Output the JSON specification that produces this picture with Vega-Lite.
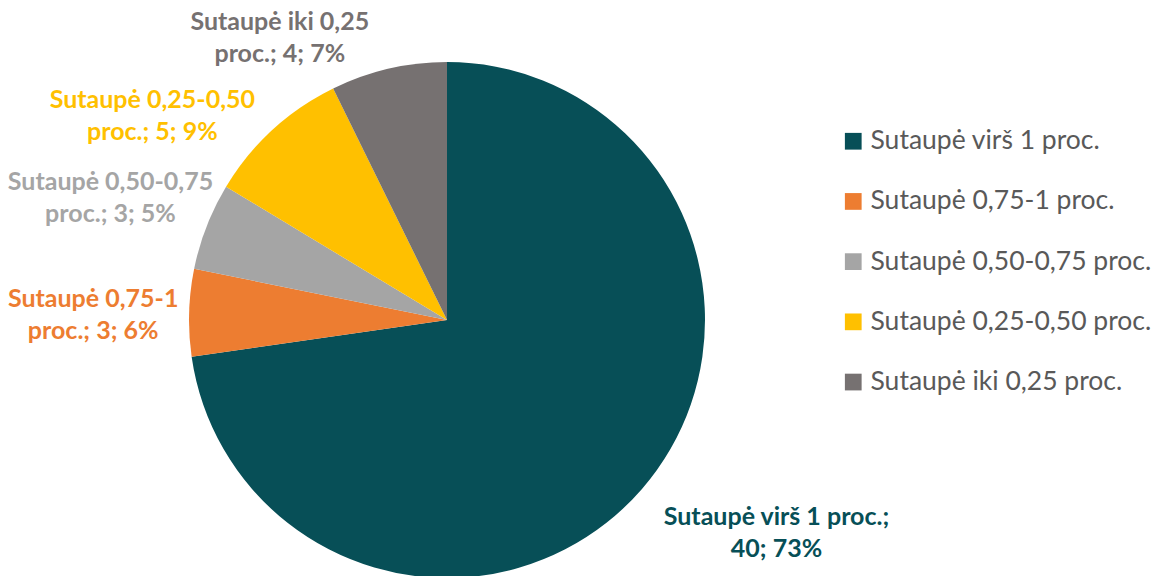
{
  "$schema": "https://vega.github.io/schema/vega-lite/v6.json",
  "autosize": "none",
  "width": 894,
  "height": 512,
  "padding": {"left": 0, "top": 64, "right": 262, "bottom": 0},
  "background": "white",
  "config": {"view": {"stroke": null}, "font": "Lato"},
  "data": {
    "values": [
      {"rank": 1, "cat": "Sutaupė virš 1 proc.", "n": 40, "label": "Sutaupė virš 1 proc.;\n40; 73%"},
      {"rank": 2, "cat": "Sutaupė 0,75-1 proc.", "n": 3, "label": "Sutaupė 0,75-1\nproc.; 3; 6%"},
      {"rank": 3, "cat": "Sutaupė 0,50-0,75 proc.", "n": 3, "label": "Sutaupė 0,50-0,75\nproc.; 3; 5%"},
      {"rank": 4, "cat": "Sutaupė 0,25-0,50 proc.", "n": 5, "label": "Sutaupė 0,25-0,50\nproc.; 5; 9%"},
      {"rank": 5, "cat": "Sutaupė iki 0,25 proc.", "n": 4, "label": "Sutaupė iki 0,25\nproc.; 4; 7%"}
    ]
  },
  "encoding": {
    "theta": {"field": "n", "type": "quantitative", "stack": true},
    "order": {"field": "rank", "type": "quantitative"},
    "color": {
      "field": "cat",
      "type": "nominal",
      "scale": {
        "domain": ["Sutaupė virš 1 proc.", "Sutaupė 0,75-1 proc.", "Sutaupė 0,50-0,75 proc.", "Sutaupė 0,25-0,50 proc.", "Sutaupė iki 0,25 proc."],
        "range": ["#074F57", "#ED7D31", "#A5A5A5", "#FFC000", "#767171"]
      },
      "legend": {
        "title": null,
        "orient": "none",
        "legendX": 840,
        "legendY": 64,
        "symbolType": "square",
        "symbolSize": 280,
        "symbolStrokeWidth": 0,
        "labelFont": "Lato",
        "labelFontSize": 26.5,
        "labelColor": "#595959",
        "labelOffset": 4,
        "rowPadding": 33.2,
        "labelLimit": 400
      }
    }
  },
  "layer": [
    {"mark": {"type": "arc", "outerRadius": 258}},
    {
      "mark": {"type": "text", "radius": 387, "dx": 37, "dy": -56, "fontSize": 25, "fontWeight": "bold", "lineBreak": "\n", "lineHeight": 32, "align": "center", "baseline": "middle"},
      "encoding": {
        "color": {"field": "cat", "type": "nominal", "legend": null},
        "text": {"condition": {"test": "datum.rank === 1", "field": "label"}, "value": ""}
      }
    },
    {
      "mark": {"type": "text", "radius": 354, "dx": 0, "dy": -11, "fontSize": 25, "fontWeight": "bold", "lineBreak": "\n", "lineHeight": 32, "align": "center", "baseline": "middle"},
      "encoding": {
        "color": {"field": "cat", "type": "nominal", "legend": null},
        "text": {"condition": {"test": "datum.rank === 2", "field": "label"}, "value": ""}
      }
    },
    {
      "mark": {"type": "text", "radius": 359, "dx": -2, "dy": -8, "fontSize": 25, "fontWeight": "bold", "lineBreak": "\n", "lineHeight": 32, "align": "center", "baseline": "middle"},
      "encoding": {
        "color": {"field": "cat", "type": "nominal", "legend": null},
        "text": {"condition": {"test": "datum.rank === 3", "field": "label"}, "value": ""}
      }
    },
    {
      "mark": {"type": "text", "radius": 350, "dx": -58, "dy": 38, "fontSize": 25, "fontWeight": "bold", "lineBreak": "\n", "lineHeight": 32, "align": "center", "baseline": "middle"},
      "encoding": {
        "color": {"field": "cat", "type": "nominal", "legend": null},
        "text": {"condition": {"test": "datum.rank === 4", "field": "label"}, "value": ""}
      }
    },
    {
      "mark": {"type": "text", "radius": 310, "dx": -97, "dy": 4, "fontSize": 25, "fontWeight": "bold", "lineBreak": "\n", "lineHeight": 32, "align": "center", "baseline": "middle"},
      "encoding": {
        "color": {"field": "cat", "type": "nominal", "legend": null},
        "text": {"condition": {"test": "datum.rank === 5", "field": "label"}, "value": ""}
      }
    }
  ]
}
